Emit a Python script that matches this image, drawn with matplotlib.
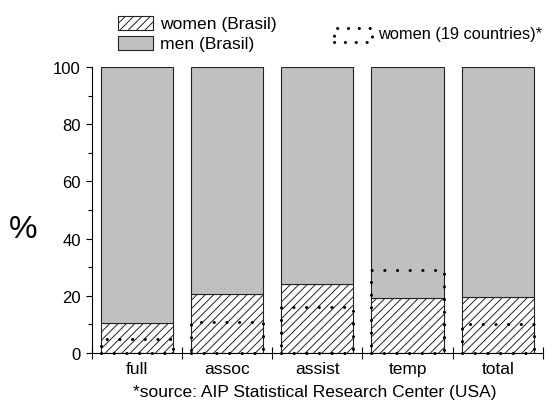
import matplotlib
matplotlib.use("Agg")
import matplotlib.pyplot as plt
from matplotlib.patches import Rectangle
import numpy as np

plt.rcParams['font.family'] = ['Liberation Sans', 'DejaVu Sans']
plt.rcParams['hatch.linewidth'] = 0.7
plt.rcParams['hatch.color'] = '#222222'

categories = ['full', 'assoc', 'assist', 'temp', 'total']
women_brasil = [10.4, 20.8, 24.1, 19.1, 19.5]
men_brasil = [100 - w for w in women_brasil]
women_19 = [5.0, 11.0, 16.0, 29.0, 10.0]

fig = plt.figure(figsize=(5.53, 4.10), dpi=100)
ax = fig.add_axes([91.5/553, 1 - 354/410, (543 - 91.5)/553, (354 - 68)/410])

x = np.arange(len(categories))
width = 0.8
ax.bar(x, women_brasil, width, color='white', edgecolor='#222222', hatch='////', linewidth=0.8, zorder=2)
ax.bar(x, men_brasil, width, bottom=women_brasil, color='#c0c0c0', edgecolor='#222222', linewidth=0.8, zorder=2)

for xi, v in zip(x, women_19):
    r = Rectangle((xi - width/2, 0), width, v, fill=False, edgecolor='black',
                  linewidth=2.2, linestyle=(0, (0.05, 4.1)), capstyle='round', zorder=3, clip_on=False)
    ax.add_patch(r)

ax.set_xlim(-0.5, 4.5)
ax.set_ylim(0, 100)
ax.spines['top'].set_visible(False)
ax.spines['right'].set_visible(False)

ax.set_xticks(np.arange(-0.5, 5.0, 1.0))
ax.set_xticklabels([])
ax.set_xticks(x, minor=True)
ax.set_xticklabels(categories, minor=True, fontsize=12.5)
ax.tick_params(axis='x', which='major', direction='inout', length=8, width=0.8)
ax.tick_params(axis='x', which='minor', length=0, pad=6)

ax.set_yticks(np.arange(0, 101, 20))
ax.set_yticks(np.arange(10, 100, 20), minor=True)
ax.tick_params(axis='y', which='major', direction='out', length=4.2, width=0.8, labelsize=12)
ax.tick_params(axis='y', which='minor', direction='out', length=3.2, width=0.8)

fig.text(23/553, 1 - 230/410, '%', fontsize=23, ha='center', va='center')
fig.text(315/553, 1 - 393/410, '*source: AIP Statistical Research Center (USA)', fontsize=12.5, ha='center', va='center')

# legend
def fr(px, py, w, h):
    return (px/553, 1 - (py + h)/410), w/553, h/410

p, w, h = fr(118, 17, 35, 14)
fig.add_artist(Rectangle(p, w, h, transform=fig.transFigure, facecolor='white', edgecolor='#222222', hatch='////', linewidth=0.8))
p, w, h = fr(118, 37, 35, 14)
fig.add_artist(Rectangle(p, w, h, transform=fig.transFigure, facecolor='#c0c0c0', edgecolor='#222222', linewidth=0.8))
p, w, h = fr(334, 29, 38, 14)
fig.add_artist(Rectangle(p, w, h, transform=fig.transFigure, fill=False, edgecolor='black', linewidth=2.2,
                         linestyle=(0, (0.05, 3.5)), capstyle='round'))
fig.text(160/553, 1 - 25/410, 'women (Brasil)', fontsize=12.6, ha='left', va='center')
fig.text(160/553, 1 - 45/410, 'men (Brasil)', fontsize=12.6, ha='left', va='center')
fig.text(378/553, 1 - 35/410, 'women (19 countries)*', fontsize=11.8, ha='left', va='center')

fig.savefig('out.png', dpi=100)
